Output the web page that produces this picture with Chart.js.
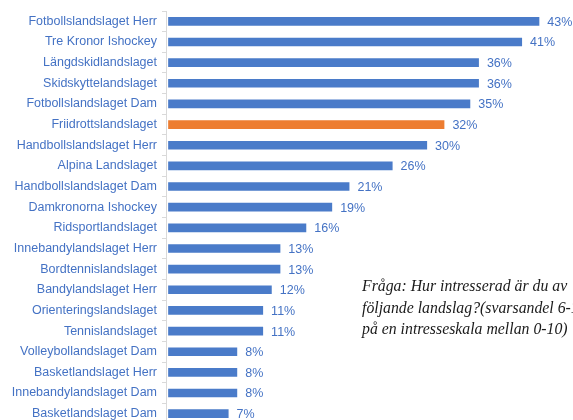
<!DOCTYPE html>
<html>
<head>
<meta charset="utf-8">
<script src="https://cdn.jsdelivr.net/npm/chart.js@4/dist/chart.umd.min.js"></script>
<style>
  html, body { margin: 0; padding: 0; background: #fff; overflow: hidden; }
  #wrap { width: 573px; height: 424px; }
</style>
</head>
<body>
<div id="wrap"><canvas id="myChart" width="573" height="424"></canvas></div>
<script>
const categories = [
  "Fotbollslandslaget Herr", "Tre Kronor Ishockey", "Längdskidlandslaget",
  "Skidskyttelandslaget", "Fotbollslandslaget Dam", "Friidrottslandslaget",
  "Handbollslandslaget Herr", "Alpina Landslaget", "Handbollslandslaget Dam",
  "Damkronorna Ishockey", "Ridsportlandslaget", "Innebandylandslaget Herr",
  "Bordtennislandslaget", "Bandylandslaget Herr", "Orienteringslandslaget",
  "Tennislandslaget", "Volleybollandslaget Dam", "Basketlandslaget Herr",
  "Innebandylandslaget Dam", "Basketlandslaget Dam"
];
const shares = [43, 41, 36, 36, 35, 32, 30, 26, 21, 19, 16, 13, 13, 12, 11, 11, 8, 8, 8, 7];
const highlight = "Friidrottslandslaget";
const note = [
  "Fråga: Hur intresserad är du av",
  "följande landslag?(svarsandel 6-10",
  "på en intresseskala mellan 0-10)"
];

const blue = "#4a7bc9";
const orange = "#ed7d31";
const textBlue = "#4472c4";

// value labels at the end of each bar + the question text on the right
const extras = {
  id: "extras",
  afterDatasetsDraw(chart) {
    const ctx = chart.ctx;
    const meta = chart.getDatasetMeta(0);
    ctx.save();
    ctx.font = "12.5px 'Liberation Sans', Arial, sans-serif";
    ctx.fillStyle = textBlue;
    ctx.textAlign = "left";
    ctx.textBaseline = "middle";
    meta.data.forEach((bar, i) => {
      ctx.fillText(shares[i] + "%", bar.x + 8, bar.y + 1);
    });
    ctx.font = "italic 15.8px 'Liberation Serif', 'Times New Roman', serif";
    ctx.fillStyle = "#1a1a1a";
    ctx.textBaseline = "alphabetic";
    note.forEach((line, i) => {
      ctx.fillText(line, 362, 291 + i * 21.5);
    });
    ctx.restore();
  }
};

var ctx = document.getElementById("myChart").getContext("2d");
var myChart = new Chart(ctx, {
  type: "bar",
  data: {
    labels: categories,
    datasets: [
      {
        data: shares,
        backgroundColor: categories.map(c => c === highlight ? orange : blue),
        borderWidth: 0,
        categoryPercentage: 1,
        barPercentage: 0.42
      }
    ]
  },
  options: {
    indexAxis: "y",
    responsive: false,
    animation: false,
    layout: { padding: { top: 11, right: 0, bottom: 0, left: 0 } },
    plugins: {
      legend: { display: false },
      tooltip: { enabled: false }
    },
    scales: {
      x: {
        display: false,
        min: -0.25,
        max: 46.9
      },
      y: {
        afterFit: scale => {
          scale.width = 166;
          scale.paddingTop = 0;
          scale.paddingBottom = 0;
        },
        border: { color: "#d9d9d9", width: 1 },
        grid: {
          drawOnChartArea: false,
          drawTicks: true,
          tickLength: 4,
          color: "#d9d9d9",
          offset: true
        },
        ticks: {
          color: textBlue,
          padding: 5,
          font: { family: "'Liberation Sans', Arial, sans-serif", size: 12.5 }
        }
      }
    }
  },
  plugins: [extras]
});
</script>
</body>
</html>
